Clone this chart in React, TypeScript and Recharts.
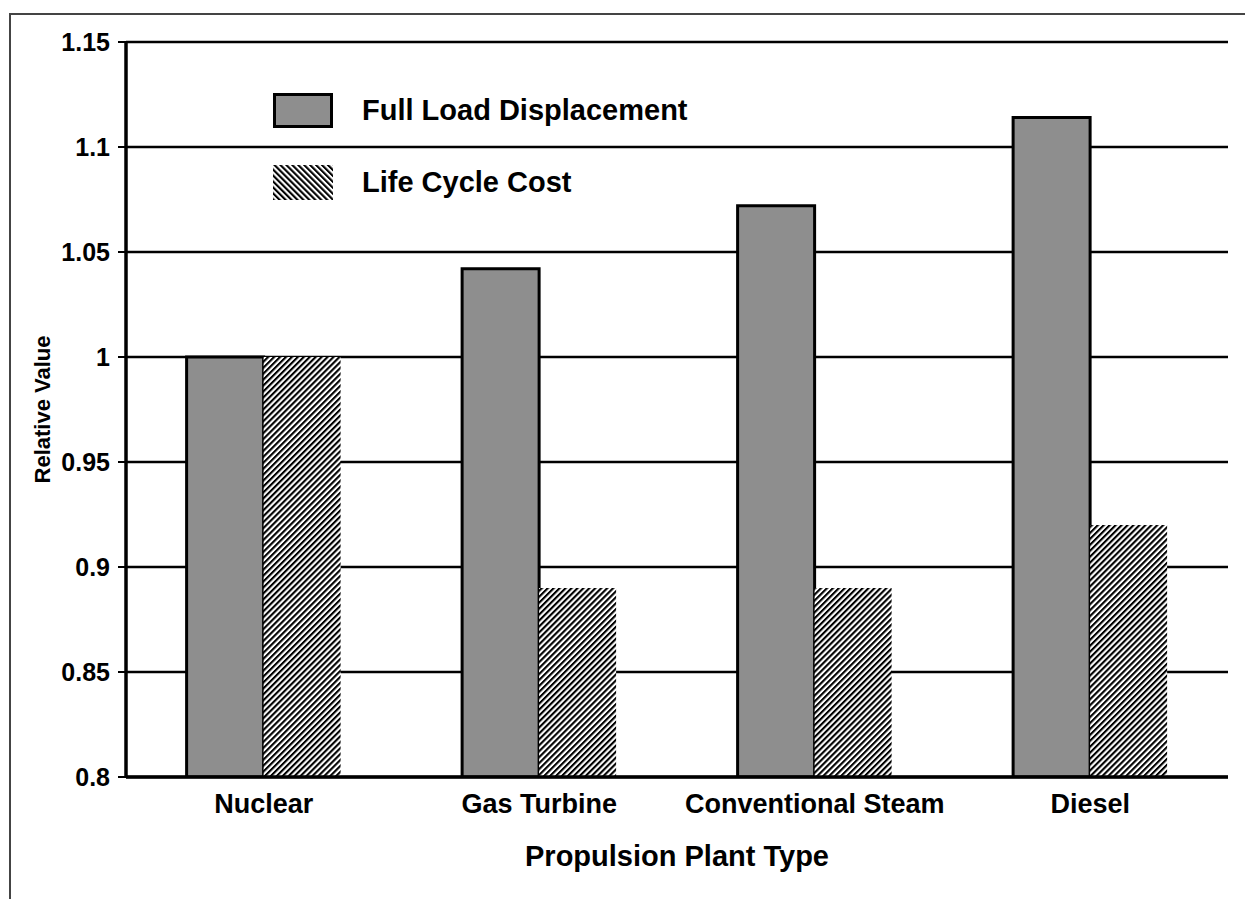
import { BarChart, Bar, XAxis, YAxis, CartesianGrid, Legend } from 'recharts'

const categories = ['Nuclear', 'Gas Turbine', 'Conventional Steam', 'Diesel']
const fullLoadDisplacement = [1.0, 1.042, 1.072, 1.114]
const lifeCycleCost = [1.0, 0.89, 0.89, 0.92]
const yTicks = [0.8, 0.85, 0.9, 0.95, 1, 1.05, 1.1, 1.15]

const FONT = '"Liberation Sans", Arial, Helvetica, sans-serif'

const data = categories.map((name, i) => ({
  name,
  fld: fullLoadDisplacement[i],
  lcc: lifeCycleCost[i],
}))

const GRAY = '#8e8e8e'

const LegendContent = ({ payload }: any) => (
  <div style={{ fontFamily: FONT, fontWeight: 'bold', fontSize: 29, color: '#000' }}>
    {(payload || []).map((entry: any, idx: number) => (
      <div
        key={idx}
        style={{ display: 'flex', alignItems: 'center', height: 35, marginBottom: idx === 0 ? 37 : 0 }}
      >
        <svg width={60} height={35} style={{ display: 'block' }}>
          <defs>
            <pattern id="legHatch" width={4.2} height={4.2} patternUnits="userSpaceOnUse" patternTransform="rotate(-45)">
              <rect width={4.2} height={4.2} fill="#fff" />
              <rect width={2.1} height={4.2} fill="#000" />
            </pattern>
          </defs>
          {entry.dataKey === 'fld' ? (
            <rect x={1.5} y={1.5} width={57} height={32} fill={GRAY} stroke="#000" strokeWidth={3} />
          ) : (
            <rect x={0} y={0} width={60} height={35} fill="url(#legHatch)" />
          )}
        </svg>
        <span style={{ marginLeft: 29, lineHeight: '35px' }}>{entry.value}</span>
      </div>
    ))}
  </div>
)

const YLabel = ({ viewBox }: any) => {
  const cx = viewBox.x + 42
  const cy = viewBox.y + viewBox.height / 2
  return (
    <text
      x={cx}
      y={cy}
      transform={`rotate(-90 ${cx} ${cy})`}
      textAnchor="middle"
      dominantBaseline="central"
      fontFamily={FONT}
      fontWeight="bold"
      fontSize={22}
      fill="#000"
    >
      Relative Value
    </text>
  )
}

const XLabel = ({ viewBox }: any) => (
  <text
    x={viewBox.x + viewBox.width / 2}
    y={856}
    textAnchor="middle"
    dominantBaseline="central"
    fontFamily={FONT}
    fontWeight="bold"
    fontSize={29}
    fill="#000"
  >
    Propulsion Plant Type
  </text>
)

export default function App() {
  return (
    <div style={{ position: 'absolute', left: 0, top: 0, width: 1245, height: 899, background: '#fff' }}>
      <div
        style={{
          position: 'absolute',
          left: 9,
          top: 13,
          width: 1236,
          height: 886,
          borderTop: '2px solid #444',
          borderLeft: '2px solid #444',
          boxSizing: 'border-box',
        }}
      />
      <BarChart
        width={1245}
        height={899}
        data={data}
        barCategoryGap="22%"
        barGap={0}
        margin={{ top: 42, right: 17, left: 0, bottom: 0 }}
        style={{ position: 'absolute', left: 0, top: 0 }}
      >
        <defs>
          <pattern id="hatch" width={4.2} height={4.2} patternUnits="userSpaceOnUse" patternTransform="rotate(45)">
            <rect width={4.2} height={4.2} fill="#fff" />
            <rect width={2.1} height={4.2} fill="#000" />
          </pattern>
        </defs>
        <CartesianGrid vertical={false} stroke="#000" strokeWidth={2.5} />
        <XAxis
          dataKey="name"
          height={122}
          tickLine={false}
          tickSize={0}
          tickMargin={17}
          axisLine={{ stroke: '#000', strokeWidth: 3.5 }}
          tick={{ fill: '#000', fontSize: 27, fontWeight: 'bold', fontFamily: FONT }}
          interval={0}
          label={<XLabel />}
        />
        <YAxis
          width={126}
          domain={[0.8, 1.15]}
          ticks={yTicks}
          allowDataOverflow
          tickSize={8}
          tickMargin={8}
          tickLine={{ stroke: '#000', strokeWidth: 2 }}
          axisLine={{ stroke: '#000', strokeWidth: 3.5 }}
          tick={{ fill: '#000', fontSize: 25, fontWeight: 'bold', fontFamily: FONT }}
          label={<YLabel />}
        />
        <Legend
          layout="vertical"
          align="center"
          verticalAlign="middle"
          content={<LegendContent />}
          wrapperStyle={{ left: 273, top: 93, width: 500, height: 'auto' }}
        />
        <Bar
          dataKey="fld"
          name="Full Load Displacement"
          fill={GRAY}
          stroke="#000"
          strokeWidth={3}
          isAnimationActive={false}
        />
        <Bar
          dataKey="lcc"
          name="Life Cycle Cost"
          fill="url(#hatch)"
          isAnimationActive={false}
        />
      </BarChart>
    </div>
  )
}
